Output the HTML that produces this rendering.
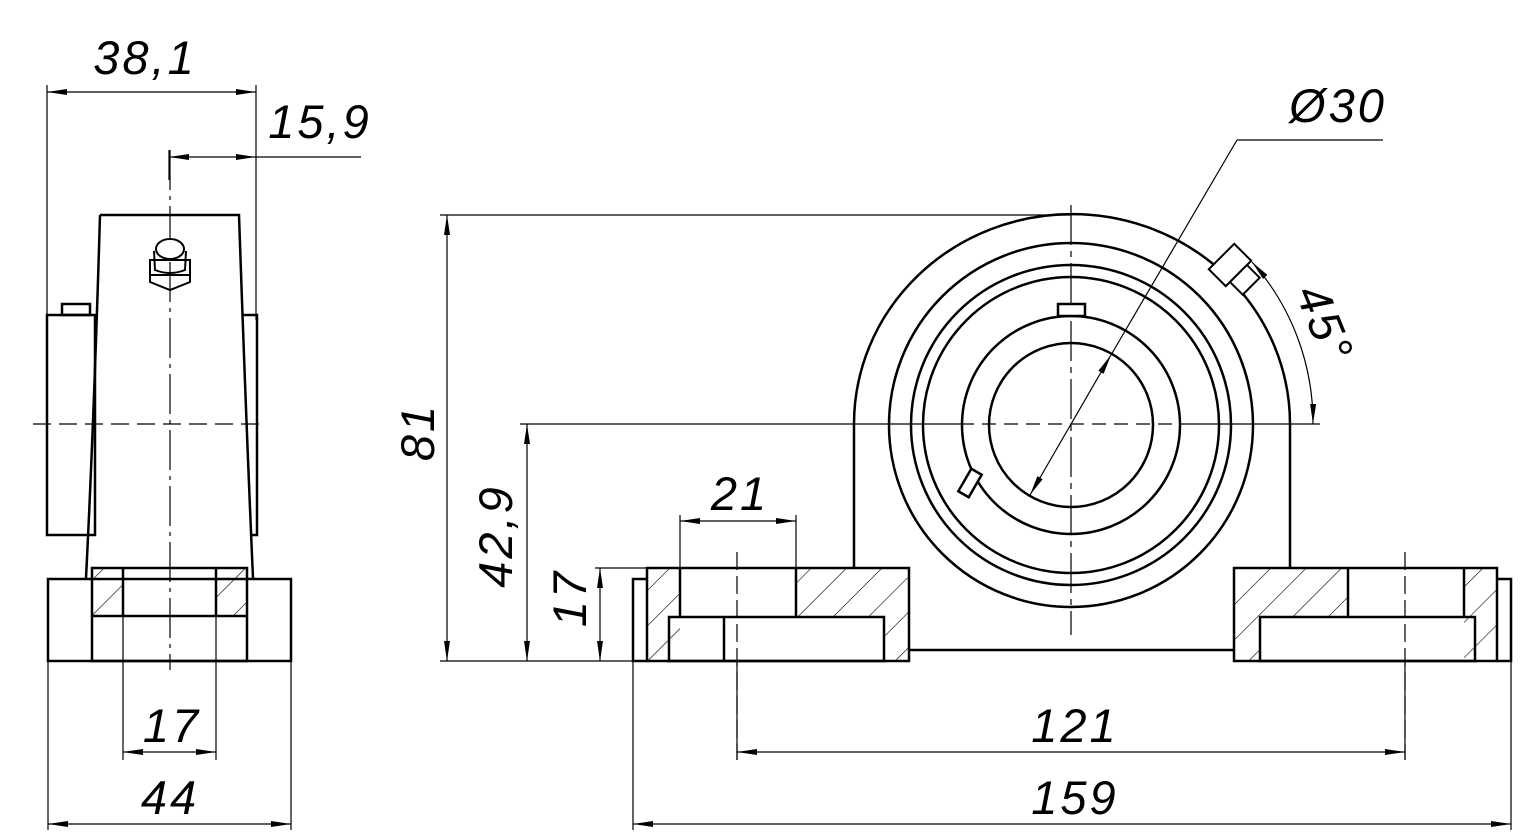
<!DOCTYPE html>
<html><head><meta charset="utf-8"><style>
html,body{margin:0;padding:0;background:#fff}
svg{display:block}
text{font-family:"Liberation Sans",sans-serif;font-style:italic;font-size:47px;letter-spacing:3px;fill:#000}
</style></head><body>
<svg width="1529" height="840" viewBox="0 0 1529 840" xmlns="http://www.w3.org/2000/svg">
<defs>
<pattern id="h" patternUnits="userSpaceOnUse" width="25" height="25" patternTransform="rotate(45)">
<line x1="0" y1="0" x2="0" y2="25" stroke="#000" stroke-width="1.2"/>
</pattern>
<marker id="a" viewBox="0 0 20 8" refX="20" refY="4" markerWidth="20" markerHeight="8" markerUnits="userSpaceOnUse" orient="auto-start-reverse">
<path d="M0,1 L20,4 L0,7 Z" fill="#000"/>
</marker>
</defs>

<g fill="none" stroke="#000" stroke-width="1.2">
<line x1="170" y1="150" x2="170" y2="670" stroke-dasharray="40,6,4,6"/>
<line x1="33" y1="424" x2="265" y2="424" stroke-dasharray="18,8"/>
<line x1="47" y1="85" x2="47" y2="320"/>
<line x1="256" y1="85" x2="256" y2="320"/>
<line x1="169" y1="150" x2="169" y2="180"/>
<line x1="47" y1="92" x2="256" y2="92" marker-start="url(#a)" marker-end="url(#a)"/>
<line x1="169" y1="157" x2="256" y2="157" marker-start="url(#a)" marker-end="url(#a)"/>
<line x1="256" y1="157" x2="361" y2="157"/>
<line x1="48" y1="661" x2="48" y2="830"/>
<line x1="291" y1="661" x2="291" y2="830"/>
<line x1="123" y1="616" x2="123" y2="760"/>
<line x1="216" y1="616" x2="216" y2="760"/>
<line x1="123" y1="752" x2="216" y2="752" marker-start="url(#a)" marker-end="url(#a)"/>
<line x1="48" y1="824" x2="291" y2="824" marker-start="url(#a)" marker-end="url(#a)"/>
</g>
<rect x="92" y="568" width="31" height="48" fill="url(#h)"/>
<rect x="216" y="568" width="31" height="48" fill="url(#h)"/>
<g fill="none" stroke="#000" stroke-width="2.5">
<path d="M100,215 L239,215 Q246,420 253,578"/>
<path d="M100,215 Q94,420 86,578"/>
<rect x="47" y="315" width="48" height="220"/>
<rect x="62" y="304" width="28" height="11"/>
<path d="M243,315 L257,315 L257,535 L250,535"/>
<rect x="48" y="579" width="243" height="82"/>
<rect x="92" y="568" width="155" height="93"/>
<line x1="92" y1="616" x2="247" y2="616"/>
<line x1="123" y1="568" x2="123" y2="616"/>
<line x1="216" y1="568" x2="216" y2="616"/>
<path d="M150,260 L190,260 L190,282 L170,290 L150,282 Z" stroke-width="2"/>
<line x1="150" y1="275" x2="190" y2="275" stroke-width="2"/>
<path d="M154,251 L155,270 Q170,276 185,270 L186,251" stroke-width="2"/>
<ellipse cx="170" cy="249" rx="14" ry="10" stroke-width="2" fill="#fff"/>
</g>

<g fill="none" stroke="#000" stroke-width="1.2">
<line x1="1071" y1="205" x2="1071" y2="635" stroke-dasharray="40,6,6,6"/>
<line x1="960" y1="424" x2="1180" y2="424" stroke-dasharray="14,8"/>
<line x1="520" y1="424" x2="960" y2="424"/>
<line x1="1180" y1="424" x2="1320" y2="424"/>
<line x1="440" y1="215" x2="1071" y2="215"/>
<line x1="440" y1="661" x2="647" y2="661"/>
<line x1="595" y1="568" x2="647" y2="568"/>
<line x1="447" y1="215" x2="447" y2="661" marker-start="url(#a)" marker-end="url(#a)"/>
<line x1="527" y1="424" x2="527" y2="661" marker-start="url(#a)" marker-end="url(#a)"/>
<line x1="600" y1="568" x2="600" y2="661" marker-start="url(#a)" marker-end="url(#a)"/>
<line x1="680" y1="515" x2="680" y2="568"/>
<line x1="796" y1="515" x2="796" y2="568"/>
<line x1="680" y1="521" x2="796" y2="521" marker-start="url(#a)" marker-end="url(#a)"/>
<line x1="737" y1="552" x2="737" y2="760" stroke-dasharray="18,6"/>
<line x1="1405" y1="552" x2="1405" y2="760" stroke-dasharray="18,6"/>
<line x1="737" y1="660" x2="737" y2="760"/>
<line x1="1405" y1="660" x2="1405" y2="760"/>
<line x1="737" y1="752" x2="1405" y2="752" marker-start="url(#a)" marker-end="url(#a)"/>
<line x1="633" y1="661" x2="633" y2="830"/>
<line x1="1511" y1="661" x2="1511" y2="830"/>
<line x1="633" y1="824" x2="1511" y2="824" marker-start="url(#a)" marker-end="url(#a)"/>
<line x1="1030" y1="495" x2="1111" y2="355" marker-start="url(#a)" marker-end="url(#a)"/>
<line x1="1111" y1="355" x2="1237" y2="140"/>
<line x1="1237" y1="140" x2="1383" y2="140"/>
<path d="M1252,262 A242,242 0 0 1 1313,424" marker-start="url(#a)" marker-end="url(#a)"/>
</g>
<rect x="647" y="568" width="33" height="93" fill="url(#h)"/>
<rect x="796" y="568" width="113" height="49" fill="url(#h)"/>
<rect x="884" y="617" width="25" height="44" fill="url(#h)"/>
<rect x="1234" y="568" width="114" height="49" fill="url(#h)"/>
<rect x="1234" y="617" width="26" height="44" fill="url(#h)"/>
<rect x="1464" y="568" width="33" height="93" fill="url(#h)"/>
<g fill="none" stroke="#000" stroke-width="2.5">
<path d="M854,568 L854,424 A217,209 0 0 1 1290,424 L1290,568"/>
<line x1="909" y1="650" x2="1234" y2="650"/>
<circle cx="1071" cy="425" r="182"/>
<circle cx="1071" cy="425" r="160"/>
<circle cx="1071" cy="425" r="148"/>
<circle cx="1071" cy="425" r="109"/>
<circle cx="1071" cy="425" r="82"/>
<rect x="1058" y="304" width="27" height="12" fill="#fff"/>
<rect x="-13" y="-6" width="26" height="12" fill="#fff" transform="translate(970,483) rotate(-60)"/>
<rect x="647" y="568" width="262" height="93"/>
<line x1="680" y1="568" x2="680" y2="617"/>
<line x1="796" y1="568" x2="796" y2="617"/>
<rect x="669" y="617" width="215" height="44"/>
<line x1="724" y1="617" x2="724" y2="661"/>
<path d="M647,579 L633,579 L633,661 L647,661"/>
<rect x="1234" y="568" width="263" height="93"/>
<line x1="1348" y1="568" x2="1348" y2="617"/>
<line x1="1464" y1="568" x2="1464" y2="617"/>
<rect x="1260" y="617" width="215" height="44"/>
<path d="M1497,579 L1511,579 L1511,661 L1497,661"/>
<g transform="translate(1230,265) rotate(45)" stroke-width="2">
<rect x="-12" y="-18" width="24" height="36" fill="#fff"/>
<rect x="12" y="-12" width="18" height="24" fill="#fff"/>
</g>
</g>

<text x="145" y="74" text-anchor="middle">38,1</text>
<text x="320" y="138" text-anchor="middle">15,9</text>
<text x="172" y="742" text-anchor="middle">17</text>
<text x="170" y="814" text-anchor="middle">44</text>
<text x="740" y="510" text-anchor="middle">21</text>
<text x="1075" y="742" text-anchor="middle">121</text>
<text x="1075" y="814" text-anchor="middle">159</text>
<text x="1338" y="122" text-anchor="middle">Ø30</text>
<text transform="translate(434,432) rotate(-90)" text-anchor="middle">81</text>
<text transform="translate(512,536) rotate(-90)" text-anchor="middle">42,9</text>
<text transform="translate(586,598) rotate(-90)" text-anchor="middle">17</text>
<text transform="translate(1310,330) rotate(68)" text-anchor="middle">45°</text>
</svg>
</body></html>
